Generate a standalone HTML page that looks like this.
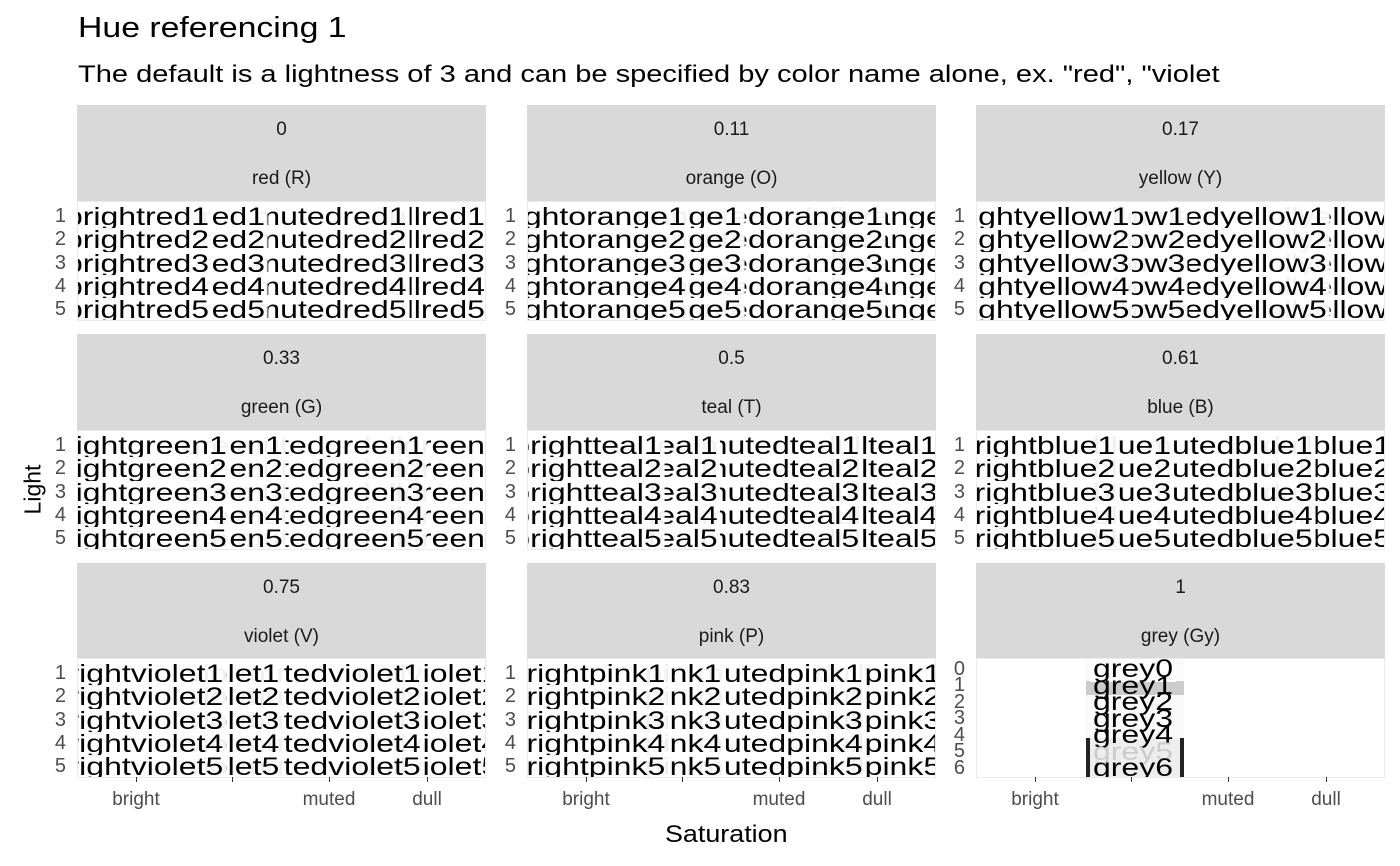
<!DOCTYPE html>
<html><head><meta charset="utf-8"><style>
body{margin:0;width:1400px;height:866px;background:#fff;position:relative;overflow:hidden;font-family:"Liberation Sans",Arial,sans-serif}
.t{position:absolute;white-space:nowrap;transform-origin:left top}
.strip{position:absolute;width:409px;height:96px;background:#d9d9d9;color:#1a1a1a;font-size:19px}
.strip div{position:absolute;left:0;right:0;text-align:center}
.strip .h{top:14px}.strip .n{top:63px}
.p{position:absolute;width:407px;height:118px;border:1px solid #ebebeb;overflow:hidden;background:#fff}
.p span{position:absolute;transform:translateX(-50%) scaleX(1.28);font-size:25px;line-height:25px;padding:0 2px;background:rgba(255,255,255,.94);color:#000;white-space:nowrap}
.a{left:59px}.b{left:155px}.c{left:252px}.d{left:350px}
.r1{top:3px}.r2{top:26px}.r3{top:50px}.r4{top:73px}.r5{top:96px}
.yl{position:absolute;font-size:20px;color:#4d4d4d;width:20px;text-align:right}
.xl{position:absolute;font-size:19px;color:#4d4d4d;transform:translateX(-50%)}
.xt{position:absolute;width:1px;height:5px;background:#333;top:777px}
</style></head><body>
<div class="t" style="left:78px;top:12px;font-size:29px;transform:scaleX(1.165)">Hue referencing 1</div>
<div class="t" style="left:78px;top:61px;font-size:24px;transform:scaleX(1.21)">The default is a lightness of 3 and can be specified by color name alone, ex. "red", "violet</div>
<div class="t" style="left:8px;top:476px;font-size:23px;transform:rotate(-90deg);transform-origin:center;width:50px;text-align:center">Light</div>
<div class="t" style="left:665px;top:821px;font-size:24px;transform:scaleX(1.12)">Saturation</div>

<div class="strip" style="left:77px;top:105px"><div class="h">0</div><div class="n">red (R)</div></div>
<div class="strip" style="left:527px;top:105px"><div class="h">0.11</div><div class="n">orange (O)</div></div>
<div class="strip" style="left:976px;top:105px"><div class="h">0.17</div><div class="n">yellow (Y)</div></div>
<div class="strip" style="left:77px;top:334px"><div class="h">0.33</div><div class="n">green (G)</div></div>
<div class="strip" style="left:527px;top:334px"><div class="h">0.5</div><div class="n">teal (T)</div></div>
<div class="strip" style="left:976px;top:334px"><div class="h">0.61</div><div class="n">blue (B)</div></div>
<div class="strip" style="left:77px;top:563px"><div class="h">0.75</div><div class="n">violet (V)</div></div>
<div class="strip" style="left:527px;top:563px"><div class="h">0.83</div><div class="n">pink (P)</div></div>
<div class="strip" style="left:976px;top:563px"><div class="h">1</div><div class="n">grey (Gy)</div></div>

<div class="p" style="left:77px;top:201px">
<span class="d r1">dullred1</span><span class="c r1">mutedred1</span><span class="b r1">red1</span><span class="a r1">brightred1</span>
<span class="d r2">dullred2</span><span class="c r2">mutedred2</span><span class="b r2">red2</span><span class="a r2">brightred2</span>
<span class="d r3">dullred3</span><span class="c r3">mutedred3</span><span class="b r3">red3</span><span class="a r3">brightred3</span>
<span class="d r4">dullred4</span><span class="c r4">mutedred4</span><span class="b r4">red4</span><span class="a r4">brightred4</span>
<span class="d r5">dullred5</span><span class="c r5">mutedred5</span><span class="b r5">red5</span><span class="a r5">brightred5</span>
</div>
<div class="p" style="left:527px;top:201px">
<span class="d r1">dullorange1</span><span class="c r1">mutedorange1</span><span class="b r1">orange1</span><span class="a r1">brightorange1</span>
<span class="d r2">dullorange2</span><span class="c r2">mutedorange2</span><span class="b r2">orange2</span><span class="a r2">brightorange2</span>
<span class="d r3">dullorange3</span><span class="c r3">mutedorange3</span><span class="b r3">orange3</span><span class="a r3">brightorange3</span>
<span class="d r4">dullorange4</span><span class="c r4">mutedorange4</span><span class="b r4">orange4</span><span class="a r4">brightorange4</span>
<span class="d r5">dullorange5</span><span class="c r5">mutedorange5</span><span class="b r5">orange5</span><span class="a r5">brightorange5</span>
</div>
<div class="p" style="left:976px;top:201px">
<span class="d r1">dullyellow1</span><span class="c r1">mutedyellow1</span><span class="b r1">yellow1</span><span class="a r1">brightyellow1</span>
<span class="d r2">dullyellow2</span><span class="c r2">mutedyellow2</span><span class="b r2">yellow2</span><span class="a r2">brightyellow2</span>
<span class="d r3">dullyellow3</span><span class="c r3">mutedyellow3</span><span class="b r3">yellow3</span><span class="a r3">brightyellow3</span>
<span class="d r4">dullyellow4</span><span class="c r4">mutedyellow4</span><span class="b r4">yellow4</span><span class="a r4">brightyellow4</span>
<span class="d r5">dullyellow5</span><span class="c r5">mutedyellow5</span><span class="b r5">yellow5</span><span class="a r5">brightyellow5</span>
</div>
<div class="p" style="left:77px;top:430px">
<span class="d r1">dullgreen1</span><span class="c r1">mutedgreen1</span><span class="b r1">green1</span><span class="a r1">brightgreen1</span>
<span class="d r2">dullgreen2</span><span class="c r2">mutedgreen2</span><span class="b r2">green2</span><span class="a r2">brightgreen2</span>
<span class="d r3">dullgreen3</span><span class="c r3">mutedgreen3</span><span class="b r3">green3</span><span class="a r3">brightgreen3</span>
<span class="d r4">dullgreen4</span><span class="c r4">mutedgreen4</span><span class="b r4">green4</span><span class="a r4">brightgreen4</span>
<span class="d r5">dullgreen5</span><span class="c r5">mutedgreen5</span><span class="b r5">green5</span><span class="a r5">brightgreen5</span>
</div>
<div class="p" style="left:527px;top:430px">
<span class="d r1">dullteal1</span><span class="c r1">mutedteal1</span><span class="b r1">teal1</span><span class="a r1">brightteal1</span>
<span class="d r2">dullteal2</span><span class="c r2">mutedteal2</span><span class="b r2">teal2</span><span class="a r2">brightteal2</span>
<span class="d r3">dullteal3</span><span class="c r3">mutedteal3</span><span class="b r3">teal3</span><span class="a r3">brightteal3</span>
<span class="d r4">dullteal4</span><span class="c r4">mutedteal4</span><span class="b r4">teal4</span><span class="a r4">brightteal4</span>
<span class="d r5">dullteal5</span><span class="c r5">mutedteal5</span><span class="b r5">teal5</span><span class="a r5">brightteal5</span>
</div>
<div class="p" style="left:976px;top:430px">
<span class="d r1">dullblue1</span><span class="c r1">mutedblue1</span><span class="b r1">blue1</span><span class="a r1">brightblue1</span>
<span class="d r2">dullblue2</span><span class="c r2">mutedblue2</span><span class="b r2">blue2</span><span class="a r2">brightblue2</span>
<span class="d r3">dullblue3</span><span class="c r3">mutedblue3</span><span class="b r3">blue3</span><span class="a r3">brightblue3</span>
<span class="d r4">dullblue4</span><span class="c r4">mutedblue4</span><span class="b r4">blue4</span><span class="a r4">brightblue4</span>
<span class="d r5">dullblue5</span><span class="c r5">mutedblue5</span><span class="b r5">blue5</span><span class="a r5">brightblue5</span>
</div>
<div class="p" style="left:77px;top:658px">
<span class="d r1">dullviolet1</span><span class="c r1">mutedviolet1</span><span class="b r1">violet1</span><span class="a r1">brightviolet1</span>
<span class="d r2">dullviolet2</span><span class="c r2">mutedviolet2</span><span class="b r2">violet2</span><span class="a r2">brightviolet2</span>
<span class="d r3">dullviolet3</span><span class="c r3">mutedviolet3</span><span class="b r3">violet3</span><span class="a r3">brightviolet3</span>
<span class="d r4">dullviolet4</span><span class="c r4">mutedviolet4</span><span class="b r4">violet4</span><span class="a r4">brightviolet4</span>
<span class="d r5">dullviolet5</span><span class="c r5">mutedviolet5</span><span class="b r5">violet5</span><span class="a r5">brightviolet5</span>
</div>
<div class="p" style="left:527px;top:658px">
<span class="d r1">dullpink1</span><span class="c r1">mutedpink1</span><span class="b r1">pink1</span><span class="a r1">brightpink1</span>
<span class="d r2">dullpink2</span><span class="c r2">mutedpink2</span><span class="b r2">pink2</span><span class="a r2">brightpink2</span>
<span class="d r3">dullpink3</span><span class="c r3">mutedpink3</span><span class="b r3">pink3</span><span class="a r3">brightpink3</span>
<span class="d r4">dullpink4</span><span class="c r4">mutedpink4</span><span class="b r4">pink4</span><span class="a r4">brightpink4</span>
<span class="d r5">dullpink5</span><span class="c r5">mutedpink5</span><span class="b r5">pink5</span><span class="a r5">brightpink5</span>
</div>
<div class="p" style="left:976px;top:658px">
<div style="position:absolute;left:109px;top:0;width:98px;height:118px;background:#fafafa"></div>
<div style="position:absolute;left:109px;top:22px;width:98px;height:14px;background:#ccc"></div>
<div style="position:absolute;left:109px;top:79px;width:98px;height:39px;background:#222"></div>
<div style="position:absolute;left:113px;top:79px;width:90px;height:39px;background:#eee"></div>
<span style="left:156px;top:-2px;background:#fff">grey0</span>
<span style="left:156px;top:15px;background:transparent">grey1</span>
<span style="left:156px;top:31px;background:transparent">grey2</span>
<span style="left:156px;top:48px;background:transparent">grey3</span>
<span style="left:156px;top:64px;background:transparent">grey4</span>
<span style="left:156px;top:81px;background:transparent;color:#ccc">grey5</span>
<span style="left:156px;top:97px;background:transparent">grey6</span>
</div>

<div class="yl" style="left:46px;top:205px">1</div><div class="yl" style="left:46px;top:228px">2</div><div class="yl" style="left:46px;top:252px">3</div><div class="yl" style="left:46px;top:275px">4</div><div class="yl" style="left:46px;top:298px">5</div>
<div class="yl" style="left:496px;top:205px">1</div><div class="yl" style="left:496px;top:228px">2</div><div class="yl" style="left:496px;top:252px">3</div><div class="yl" style="left:496px;top:275px">4</div><div class="yl" style="left:496px;top:298px">5</div>
<div class="yl" style="left:945px;top:205px">1</div><div class="yl" style="left:945px;top:228px">2</div><div class="yl" style="left:945px;top:252px">3</div><div class="yl" style="left:945px;top:275px">4</div><div class="yl" style="left:945px;top:298px">5</div>
<div class="yl" style="left:46px;top:434px">1</div><div class="yl" style="left:46px;top:457px">2</div><div class="yl" style="left:46px;top:481px">3</div><div class="yl" style="left:46px;top:504px">4</div><div class="yl" style="left:46px;top:527px">5</div>
<div class="yl" style="left:496px;top:434px">1</div><div class="yl" style="left:496px;top:457px">2</div><div class="yl" style="left:496px;top:481px">3</div><div class="yl" style="left:496px;top:504px">4</div><div class="yl" style="left:496px;top:527px">5</div>
<div class="yl" style="left:945px;top:434px">1</div><div class="yl" style="left:945px;top:457px">2</div><div class="yl" style="left:945px;top:481px">3</div><div class="yl" style="left:945px;top:504px">4</div><div class="yl" style="left:945px;top:527px">5</div>
<div class="yl" style="left:46px;top:662px">1</div><div class="yl" style="left:46px;top:685px">2</div><div class="yl" style="left:46px;top:709px">3</div><div class="yl" style="left:46px;top:732px">4</div><div class="yl" style="left:46px;top:755px">5</div>
<div class="yl" style="left:496px;top:662px">1</div><div class="yl" style="left:496px;top:685px">2</div><div class="yl" style="left:496px;top:709px">3</div><div class="yl" style="left:496px;top:732px">4</div><div class="yl" style="left:496px;top:755px">5</div>
<div class="yl" style="left:945px;top:658px">0</div><div class="yl" style="left:945px;top:674px">1</div><div class="yl" style="left:945px;top:691px">2</div><div class="yl" style="left:945px;top:707px">3</div><div class="yl" style="left:945px;top:724px">4</div><div class="yl" style="left:945px;top:740px">5</div><div class="yl" style="left:945px;top:757px">6</div>

<div class="xt" style="left:136px"></div><div class="xt" style="left:232px"></div><div class="xt" style="left:329px"></div><div class="xt" style="left:427px"></div>
<div class="xt" style="left:586px"></div><div class="xt" style="left:682px"></div><div class="xt" style="left:779px"></div><div class="xt" style="left:877px"></div>
<div class="xt" style="left:1035px"></div><div class="xt" style="left:1131px"></div><div class="xt" style="left:1228px"></div><div class="xt" style="left:1326px"></div>
<div class="xl" style="left:136px;top:789px">bright</div><div class="xl" style="left:329px;top:789px">muted</div><div class="xl" style="left:427px;top:789px">dull</div>
<div class="xl" style="left:586px;top:789px">bright</div><div class="xl" style="left:779px;top:789px">muted</div><div class="xl" style="left:877px;top:789px">dull</div>
<div class="xl" style="left:1035px;top:789px">bright</div><div class="xl" style="left:1228px;top:789px">muted</div><div class="xl" style="left:1326px;top:789px">dull</div>
</body></html>
